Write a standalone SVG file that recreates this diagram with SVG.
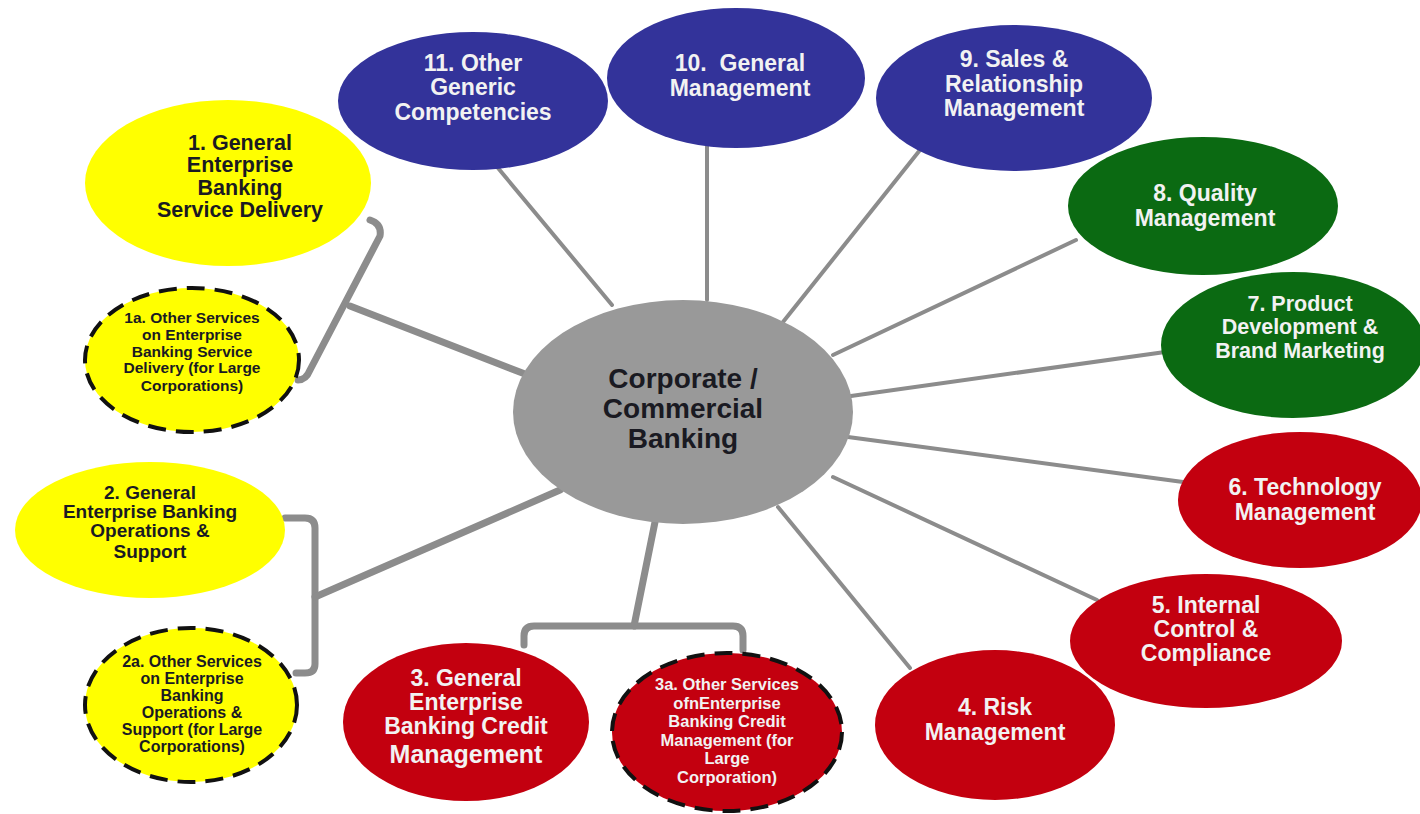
<svg xmlns="http://www.w3.org/2000/svg" width="1420" height="814" viewBox="0 0 1420 814">
<style>
text{font-family:"Liberation Sans",Arial,sans-serif;font-weight:bold;text-anchor:middle}
.lt{fill:#f2f2f2}
.dk{fill:#1a1a22}
.blue{fill:#33339a}
.green{fill:#0b6a12}
.red{fill:#c3000f}
.yel{fill:#ffff00}
.dash{stroke:#111;stroke-width:4;stroke-dasharray:18 10}
.thin{stroke:#8c8c8c;stroke-width:4;fill:none;stroke-linecap:round}
.thick{stroke:#8c8c8c;stroke-width:7;fill:none;stroke-linecap:round;stroke-linejoin:round}
</style>
<rect width="1420" height="814" fill="#ffffff"/>
<g id="connectors">
<line class="thin" x1="612" y1="305" x2="498" y2="168"/>
<line class="thin" x1="707" y1="300" x2="707" y2="146"/>
<line class="thin" x1="783" y1="322" x2="920" y2="150"/>
<line class="thin" x1="833" y1="355" x2="1076" y2="240"/>
<line class="thin" x1="851" y1="396" x2="1165" y2="352"/>
<line class="thin" x1="848" y1="437" x2="1183" y2="482"/>
<line class="thin" x1="833" y1="477" x2="1097" y2="600"/>
<line class="thin" x1="778" y1="507" x2="910" y2="668"/>
<path class="thick" d="M370,220 Q382,224 380,236 L310,370 Q306,380 298,380"/>
<path class="thick" d="M350,306 L525,374"/>
<path class="thick" d="M285,518 L305,518 Q315,518 315,528 L315,664 Q315,673 305,673 L296,673"/>
<path class="thick" d="M315,597 L560,490"/>
<path class="thick" d="M655,522 L634,626"/>
<path class="thick" d="M524,645 L524,636 Q524,626 534,626 L733,626 Q743,626 743,636 L743,650"/>
</g>
<g id="center">
<ellipse cx="683" cy="412" rx="170" ry="112" fill="#999999"/>
<text class="dk" font-size="28" x="683" y="388">Corporate /</text>
<text class="dk" font-size="28" x="683" y="418">Commercial</text>
<text class="dk" font-size="28" x="683" y="448">Banking</text>
</g>
<g id="n11">
<ellipse class="blue" cx="473" cy="101" rx="135" ry="69"/>
<text class="lt" font-size="23" x="473" y="71">11. Other</text>
<text class="lt" font-size="23" x="473" y="95">Generic</text>
<text class="lt" font-size="23" x="473" y="120">Competencies</text>
</g>
<g id="n10">
<ellipse class="blue" cx="736" cy="78" rx="129" ry="70"/>
<text class="lt" font-size="23" x="740" y="71" xml:space="preserve">10.  General</text>
<text class="lt" font-size="23" x="740" y="96">Management</text>
</g>
<g id="n9">
<ellipse class="blue" cx="1014" cy="98" rx="138" ry="73"/>
<text class="lt" font-size="23" x="1014" y="67">9. Sales &amp;</text>
<text class="lt" font-size="23" x="1014" y="92">Relationship</text>
<text class="lt" font-size="23" x="1014" y="116">Management</text>
</g>
<g id="n8">
<ellipse class="green" cx="1203" cy="206" rx="135" ry="69"/>
<text class="lt" font-size="23" x="1205" y="201">8. Quality</text>
<text class="lt" font-size="23" x="1205" y="226">Management</text>
</g>
<g id="n7">
<ellipse class="green" cx="1293" cy="345" rx="132" ry="73"/>
<text class="lt" font-size="21.5" x="1300" y="311">7. Product</text>
<text class="lt" font-size="21.5" x="1300" y="334">Development &amp;</text>
<text class="lt" font-size="21.5" x="1300" y="358">Brand Marketing</text>
</g>
<g id="n6">
<ellipse class="red" cx="1300" cy="500" rx="122" ry="68"/>
<text class="lt" font-size="23" x="1305" y="495">6. Technology</text>
<text class="lt" font-size="23" x="1305" y="520">Management</text>
</g>
<g id="n5">
<ellipse class="red" cx="1206" cy="641" rx="136" ry="67"/>
<text class="lt" font-size="23" x="1206" y="613">5. Internal</text>
<text class="lt" font-size="23" x="1206" y="637">Control &amp;</text>
<text class="lt" font-size="23" x="1206" y="661">Compliance</text>
</g>
<g id="n4">
<ellipse class="red" cx="995" cy="725" rx="120" ry="75"/>
<text class="lt" font-size="23" x="995" y="715">4. Risk</text>
<text class="lt" font-size="23" x="995" y="740">Management</text>
</g>
<g id="n3">
<ellipse class="red" cx="466" cy="722" rx="123" ry="79"/>
<text class="lt" font-size="23" x="466" y="686">3. General</text>
<text class="lt" font-size="23" x="466" y="710">Enterprise</text>
<text class="lt" font-size="23" x="466" y="734">Banking Credit</text>
<text class="lt" font-size="25" x="466" y="763">Management</text>
</g>
<g id="n3a">
<ellipse class="red dash" cx="727" cy="732" rx="115" ry="79"/>
<text class="lt" font-size="16.5" x="727" y="690">3a. Other Services</text>
<text class="lt" font-size="16.5" x="727" y="708.5">ofnEnterprise</text>
<text class="lt" font-size="16.5" x="727" y="727">Banking Credit</text>
<text class="lt" font-size="16.5" x="727" y="745.5">Management (for</text>
<text class="lt" font-size="16.5" x="727" y="764">Large</text>
<text class="lt" font-size="16.5" x="727" y="782.5">Corporation)</text>
</g>
<g id="n1">
<ellipse class="yel" cx="228" cy="183" rx="143" ry="83"/>
<text class="dk" font-size="21.5" x="240" y="150">1. General</text>
<text class="dk" font-size="21.5" x="240" y="172">Enterprise</text>
<text class="dk" font-size="21.5" x="240" y="195">Banking</text>
<text class="dk" font-size="21.5" x="240" y="217">Service Delivery</text>
</g>
<g id="n1a">
<ellipse class="yel dash" cx="192" cy="360" rx="107" ry="72"/>
<text class="dk" font-size="15.5" x="192" y="323">1a. Other Services</text>
<text class="dk" font-size="15.5" x="192" y="340">on Enterprise</text>
<text class="dk" font-size="15.5" x="192" y="357">Banking Service</text>
<text class="dk" font-size="15.5" x="192" y="373">Delivery (for Large</text>
<text class="dk" font-size="15.5" x="192" y="391">Corporations)</text>
</g>
<g id="n2">
<ellipse class="yel" cx="150" cy="530" rx="135" ry="68"/>
<text class="dk" font-size="19" x="150" y="499">2. General</text>
<text class="dk" font-size="19" x="150" y="518">Enterprise Banking</text>
<text class="dk" font-size="19" x="150" y="537">Operations &amp;</text>
<text class="dk" font-size="19" x="150" y="558">Support</text>
</g>
<g id="n2a">
<ellipse class="yel dash" cx="191" cy="705" rx="106" ry="77"/>
<text class="dk" font-size="16" x="192" y="667">2a. Other Services</text>
<text class="dk" font-size="16" x="192" y="684">on Enterprise</text>
<text class="dk" font-size="16" x="192" y="701">Banking</text>
<text class="dk" font-size="16" x="192" y="718">Operations &amp;</text>
<text class="dk" font-size="16" x="192" y="735">Support (for Large</text>
<text class="dk" font-size="16" x="192" y="752">Corporations)</text>
</g>
</svg>
